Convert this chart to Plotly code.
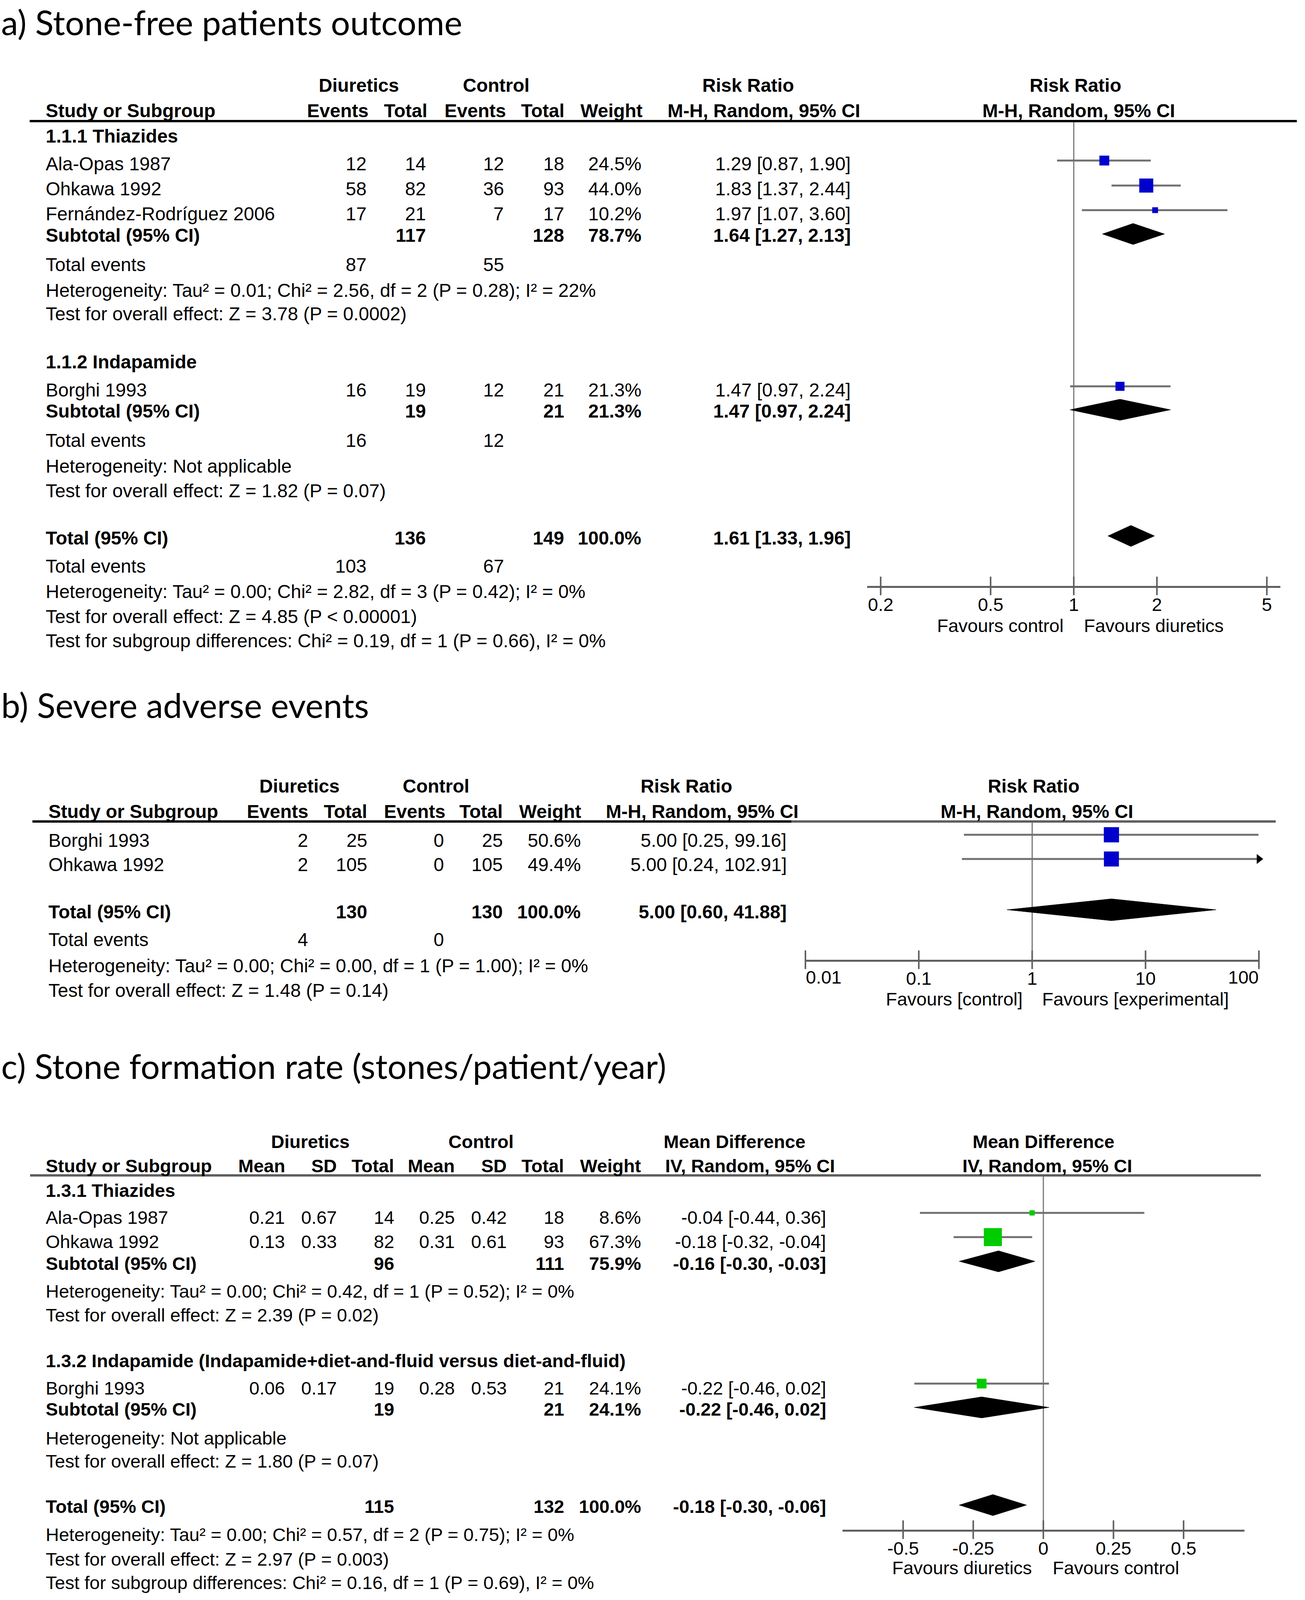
import numpy as np
import plotly.graph_objects as go

W, H = 3341, 4435

# ===================== DATA =====================
# ---- Panel a: Stone-free patients outcome (Risk Ratio) ----
a_title = "a) Stone-free patients outcome"
a_groups = ["1.1.1 Thiazides", "1.1.2 Indapamide"]
a_study = ["Ala-Opas 1987", "Ohkawa 1992", "Fernández-Rodríguez 2006", "Borghi 1993"]
a_study_group = [0, 0, 0, 1]
a_ev_d = [12, 58, 17, 16]
a_n_d = [14, 82, 21, 19]
a_ev_c = [12, 36, 7, 12]
a_n_c = [18, 93, 17, 21]
a_weight = [24.5, 44.0, 10.2, 21.3]
a_rr = [1.29, 1.83, 1.97, 1.47]
a_lo = [0.87, 1.37, 1.07, 0.97]
a_hi = [1.90, 2.44, 3.60, 2.24]
a_sub_n_d = [117, 19]
a_sub_n_c = [128, 21]
a_sub_weight = [78.7, 21.3]
a_sub_rr = [1.64, 1.47]
a_sub_lo = [1.27, 0.97]
a_sub_hi = [2.13, 2.24]
a_sub_ev_d = [87, 16]
a_sub_ev_c = [55, 12]
a_sub_het = ["Heterogeneity: Tau² = 0.01; Chi² = 2.56, df = 2 (P = 0.28); I² = 22%",
             "Heterogeneity: Not applicable"]
a_sub_test = ["Test for overall effect: Z = 3.78 (P = 0.0002)",
              "Test for overall effect: Z = 1.82 (P = 0.07)"]
a_tot_n_d, a_tot_n_c, a_tot_weight = 136, 149, 100.0
a_tot_rr, a_tot_lo, a_tot_hi = 1.61, 1.33, 1.96
a_tot_ev_d, a_tot_ev_c = 103, 67
a_tot_notes = ["Heterogeneity: Tau² = 0.00; Chi² = 2.82, df = 3 (P = 0.42); I² = 0%",
               "Test for overall effect: Z = 4.85 (P < 0.00001)",
               "Test for subgroup differences: Chi² = 0.19, df = 1 (P = 0.66), I² = 0%"]
a_ticks = [0.2, 0.5, 1, 2, 5]
a_ticklabels = ["0.2", "0.5", "1", "2", "5"]
a_favours = ["Favours control", "Favours diuretics"]

# ---- Panel b: Severe adverse events (Risk Ratio) ----
b_title = "b) Severe adverse events"
b_study = ["Borghi 1993", "Ohkawa 1992"]
b_ev_d = [2, 2]
b_n_d = [25, 105]
b_ev_c = [0, 0]
b_n_c = [25, 105]
b_weight = [50.6, 49.4]
b_rr = [5.00, 5.00]
b_lo = [0.25, 0.24]
b_hi = [99.16, 102.91]
b_tot_n_d, b_tot_n_c, b_tot_weight = 130, 130, 100.0
b_tot_rr, b_tot_lo, b_tot_hi = 5.00, 0.60, 41.88
b_tot_ev_d, b_tot_ev_c = 4, 0
b_tot_notes = ["Heterogeneity: Tau² = 0.00; Chi² = 0.00, df = 1 (P = 1.00); I² = 0%",
               "Test for overall effect: Z = 1.48 (P = 0.14)"]
b_ticks = [0.01, 0.1, 1, 10, 100]
b_ticklabels = ["0.01", "0.1", "1", "10", "100"]
b_favours = ["Favours [control]", "Favours [experimental]"]

# ---- Panel c: Stone formation rate (Mean Difference) ----
c_title = "c) Stone formation rate (stones/patient/year)"
c_groups = ["1.3.1 Thiazides", "1.3.2 Indapamide (Indapamide+diet-and-fluid versus diet-and-fluid)"]
c_study = ["Ala-Opas 1987", "Ohkawa 1992", "Borghi 1993"]
c_study_group = [0, 0, 1]
c_mean_d = [0.21, 0.13, 0.06]
c_sd_d = [0.67, 0.33, 0.17]
c_n_d = [14, 82, 19]
c_mean_c = [0.25, 0.31, 0.28]
c_sd_c = [0.42, 0.61, 0.53]
c_n_c = [18, 93, 21]
c_weight = [8.6, 67.3, 24.1]
c_md = [-0.04, -0.18, -0.22]
c_lo = [-0.44, -0.32, -0.46]
c_hi = [0.36, -0.04, 0.02]
c_sub_n_d = [96, 19]
c_sub_n_c = [111, 21]
c_sub_weight = [75.9, 24.1]
c_sub_md = [-0.16, -0.22]
c_sub_lo = [-0.30, -0.46]
c_sub_hi = [-0.03, 0.02]
c_sub_het = ["Heterogeneity: Tau² = 0.00; Chi² = 0.42, df = 1 (P = 0.52); I² = 0%",
             "Heterogeneity: Not applicable"]
c_sub_test = ["Test for overall effect: Z = 2.39 (P = 0.02)",
              "Test for overall effect: Z = 1.80 (P = 0.07)"]
c_tot_n_d, c_tot_n_c, c_tot_weight = 115, 132, 100.0
c_tot_md, c_tot_lo, c_tot_hi = -0.18, -0.30, -0.06
c_tot_notes = ["Heterogeneity: Tau² = 0.00; Chi² = 0.57, df = 2 (P = 0.75); I² = 0%",
               "Test for overall effect: Z = 2.97 (P = 0.003)",
               "Test for subgroup differences: Chi² = 0.16, df = 1 (P = 0.69), I² = 0%"]
c_ticks = [-0.5, -0.25, 0, 0.25, 0.5]
c_ticklabels = ["-0.5", "-0.25", "0", "0.25", "0.5"]
c_favours = ["Favours diuretics", "Favours control"]

# ===================== STYLE / LAYOUT =====================
TFONT = "Liberation Sans, Arial, sans-serif"
TITLE_FONT = "Lato, Open Sans, sans-serif"
TITLE_SIZE = 87
BLUE = "#0000CC"
GREEN = "#00CC00"
CI_GRAY = "#707070"
AX_GRAY = "#5f5f5f"
NULL_GRAY = "#777777"

# vertical shift of each panel (the photographed page ends near 4090 px,
# so panels b and c are pulled up into the blank gaps between panels)
PANEL_SHIFT = {"a": 0, "b": -170, "c": -350}
OFF = 0

annotations = []
shapes = []
traces = []


def px(x):
    return x / W


def py(y):
    return 1 - (y + OFF) / H


def txt(x, y, s, anchor="left", bold=False, size=48, family=TFONT):
    annotations.append(dict(
        x=px(x), y=py(y), xref="paper", yref="paper",
        text=f"<b>{s}</b>" if bold else s, showarrow=False,
        xanchor=anchor, yanchor="middle", borderpad=0,
        font=dict(family=family, size=size, color="black")))


def axtxt(xa, xval, y, s, anchor, xshift=0, size=47):
    # x through the forest axis, y at a page row
    annotations.append(dict(
        x=xval, y=py(y), xref=xa, yref="paper", text=s, showarrow=False,
        xanchor=anchor, yanchor="middle", xshift=xshift, borderpad=0,
        font=dict(family=TFONT, size=size, color="black")))


def hline(x0, x1, y, color="black", width=5):
    shapes.append(dict(type="line", xref="paper", yref="paper",
                       x0=px(x0), x1=px(x1), y0=py(y), y1=py(y),
                       line=dict(color=color, width=width)))


def fmt_ci(e, l, h):
    return f"{e:.2f} [{l:.2f}, {h:.2f}]"


def sq_size(w):
    return 3.7 * w ** 0.6


def forest_marks(xa, ya, est, lo, hi, ys, weights, color, clip_hi=None):
    for e, l, h, y, w in zip(est, lo, hi, ys, weights):
        hh = h if clip_hi is None else min(h, clip_hi)
        traces.append(go.Scatter(x=[l, hh], y=[y, y], mode="lines", xaxis=xa, yaxis=ya,
                                 line=dict(color=CI_GRAY, width=5), hoverinfo="skip"))
        if clip_hi is not None and h > clip_hi:
            traces.append(go.Scatter(x=[clip_hi], y=[y], mode="markers", xaxis=xa, yaxis=ya,
                                     cliponaxis=False,
                                     marker=dict(symbol="triangle-right", size=22, color="black"),
                                     hoverinfo="skip"))
        traces.append(go.Scatter(x=[e], y=[y], mode="markers", xaxis=xa, yaxis=ya,
                                 marker=dict(symbol="square", size=sq_size(w), color=color,
                                             line=dict(width=0)), hoverinfo="skip"))


def diamond(xa, ya, est, lo, hi, y, h=54):
    traces.append(go.Scatter(x=[lo, est, hi, est, lo], y=[y, y - h / 2, y, y + h / 2, y],
                             mode="lines", fill="toself", fillcolor="black",
                             line=dict(color="black", width=1), xaxis=xa, yaxis=ya,
                             hoverinfo="skip"))


def axis_and_null(xa, ya, ticks, null, top, bottom):
    traces.append(go.Scatter(x=[null, null], y=[top, bottom], mode="lines", xaxis=xa, yaxis=ya,
                             line=dict(color=NULL_GRAY, width=3), hoverinfo="skip"))
    traces.append(go.Scatter(x=ticks, y=[bottom] * len(ticks), mode="markers", xaxis=xa, yaxis=ya,
                             cliponaxis=False,
                             marker=dict(symbol="line-ns", size=34, color=AX_GRAY,
                                         line=dict(width=4, color=AX_GRAY)), hoverinfo="skip"))


layout_axes = {}


def make_axes(idx, xdom, top, bottom, xtype, xrange, ticks, ticklabels):
    xn = "xaxis" if idx == 1 else f"xaxis{idx}"
    yn = "yaxis" if idx == 1 else f"yaxis{idx}"
    ya = "y" if idx == 1 else f"y{idx}"
    xa = "x" if idx == 1 else f"x{idx}"
    layout_axes[xn] = dict(domain=[px(xdom[0]), px(xdom[1])], type=xtype, range=xrange,
                           anchor=ya, showline=True, linecolor=AX_GRAY, linewidth=5,
                           ticks="", tickvals=ticks, ticktext=ticklabels,
                           ticklabelstandoff=3,
                           showgrid=False, zeroline=False,
                           tickfont=dict(family=TFONT, size=47, color="black"),
                           fixedrange=True)
    layout_axes[yn] = dict(domain=[py(bottom), py(top)], range=[bottom, top], anchor=xa,
                           visible=False, showgrid=False, zeroline=False, fixedrange=True)
    return xa, ya


# ===================== PANEL A =====================
OFF = PANEL_SHIFT["a"]
txt(2, 56, a_title, size=TITLE_SIZE, family=TITLE_FONT)
A_L = 116
A_COL = dict(ev_d=939, n_d=1091, ev_c=1291, n_c=1445, w=1643, ci=2179)
A_HDR1, A_HDR2, A_LINE = 219, 284, 310
A_AX_Y = 1500
for s, x in [("Diuretics", 918), ("Control", 1270), ("Risk Ratio", 1916), ("Risk Ratio", 2753)]:
    txt(x, A_HDR1, s, "center", True)
txt(A_L, A_HDR2, "Study or Subgroup", "left", True)
for s, x in [("Events", 944), ("Total", 1095), ("Events", 1296), ("Total", 1446), ("Weight", 1646)]:
    txt(x, A_HDR2, s, "right", True)
txt(1955, A_HDR2, "M-H, Random, 95% CI", "center", True)
txt(2761, A_HDR2, "M-H, Random, 95% CI", "center", True)
hline(76, 3320, A_LINE, "black", 6)

a_group_y = [349, 926]
a_study_y = [420, 484, 547, 998]
a_sub_y = [603, 1053]
a_sub_ev_y = [677, 1127]
a_sub_het_y = [744, 1193]
a_sub_test_y = [804, 1256]
a_tot_y = 1377
a_tot_ev_y = 1449
a_tot_notes_y = [1515, 1578, 1641]

xa, ya = make_axes(1, (2220, 3278), A_LINE, A_AX_Y, "log", [-0.748, 0.748], a_ticks, a_ticklabels)
axis_and_null(xa, ya, a_ticks, 1, A_LINE + 3, A_AX_Y)

for g in range(2):
    txt(A_L, a_group_y[g], a_groups[g], bold=True)
for i in range(len(a_study)):
    y = a_study_y[i]
    txt(A_L, y, a_study[i])
    txt(A_COL["ev_d"], y, str(a_ev_d[i]), "right")
    txt(A_COL["n_d"], y, str(a_n_d[i]), "right")
    txt(A_COL["ev_c"], y, str(a_ev_c[i]), "right")
    txt(A_COL["n_c"], y, str(a_n_c[i]), "right")
    txt(A_COL["w"], y, f"{a_weight[i]:.1f}%", "right")
    txt(A_COL["ci"], y, fmt_ci(a_rr[i], a_lo[i], a_hi[i]), "right")
forest_marks(xa, ya, a_rr, a_lo, a_hi, [y - 9 for y in a_study_y], a_weight, BLUE)
for g in range(2):
    y = a_sub_y[g]
    txt(A_L, y, "Subtotal (95% CI)", bold=True)
    txt(A_COL["n_d"], y, str(a_sub_n_d[g]), "right", True)
    txt(A_COL["n_c"], y, str(a_sub_n_c[g]), "right", True)
    txt(A_COL["w"], y, f"{a_sub_weight[g]:.1f}%", "right", True)
    txt(A_COL["ci"], y, fmt_ci(a_sub_rr[g], a_sub_lo[g], a_sub_hi[g]), "right", True)
    diamond(xa, ya, a_sub_rr[g], a_sub_lo[g], a_sub_hi[g], y - 4)
    txt(A_L, a_sub_ev_y[g], "Total events")
    txt(A_COL["ev_d"], a_sub_ev_y[g], str(a_sub_ev_d[g]), "right")
    txt(A_COL["ev_c"], a_sub_ev_y[g], str(a_sub_ev_c[g]), "right")
    txt(A_L, a_sub_het_y[g], a_sub_het[g])
    txt(A_L, a_sub_test_y[g], a_sub_test[g])
txt(A_L, a_tot_y, "Total (95% CI)", bold=True)
txt(A_COL["n_d"], a_tot_y, str(a_tot_n_d), "right", True)
txt(A_COL["n_c"], a_tot_y, str(a_tot_n_c), "right", True)
txt(A_COL["w"], a_tot_y, f"{a_tot_weight:.1f}%", "right", True)
txt(A_COL["ci"], a_tot_y, fmt_ci(a_tot_rr, a_tot_lo, a_tot_hi), "right", True)
diamond(xa, ya, a_tot_rr, a_tot_lo, a_tot_hi, a_tot_y - 5)
txt(A_L, a_tot_ev_y, "Total events")
txt(A_COL["ev_d"], a_tot_ev_y, str(a_tot_ev_d), "right")
txt(A_COL["ev_c"], a_tot_ev_y, str(a_tot_ev_c), "right")
for s, y in zip(a_tot_notes, a_tot_notes_y):
    txt(A_L, y, s)
axtxt(xa, 0, A_AX_Y + 101, a_favours[0], "right", -25)
axtxt(xa, 0, A_AX_Y + 101, a_favours[1], "left", 25)

# ===================== PANEL B =====================
OFF = PANEL_SHIFT["b"]
txt(2, 1974, b_title, size=TITLE_SIZE, family=TITLE_FONT)
B_L = 123
B_COL = dict(ev_d=790, n_d=941, ev_c=1138, n_c=1288, w=1488, ci=2015)
B_HDR1, B_HDR2, B_LINE = 2183, 2247, 2273
B_AX_Y = 2627
for s, x in [("Diuretics", 766), ("Control", 1116), ("Risk Ratio", 1757), ("Risk Ratio", 2646)]:
    txt(x, B_HDR1, s, "center", True)
txt(B_L, B_HDR2, "Study or Subgroup", "left", True)
for s, x in [("Events", 790), ("Total", 941), ("Events", 1141), ("Total", 1288), ("Weight", 1489)]:
    txt(x, B_HDR2, s, "right", True)
txt(1797, B_HDR2, "M-H, Random, 95% CI", "center", True)
txt(2654, B_HDR2, "M-H, Random, 95% CI", "center", True)
hline(83, 2026, B_LINE, "black", 6)
hline(2026, 3266, B_LINE, AX_GRAY, 6)

b_study_y = [2321, 2383]
b_tot_y = 2504
b_tot_ev_y = 2575
b_tot_notes_y = [2642, 2705]

xb, yb = make_axes(2, (2062, 3223), B_LINE, B_AX_Y, "log", [-2, 2], b_ticks,
                   [""] + b_ticklabels[1:-1] + [""])
axis_and_null(xb, yb, b_ticks, 1, B_LINE + 2, B_AX_Y)
for i in range(len(b_study)):
    y = b_study_y[i]
    txt(B_L, y, b_study[i])
    txt(B_COL["ev_d"], y, str(b_ev_d[i]), "right")
    txt(B_COL["n_d"], y, str(b_n_d[i]), "right")
    txt(B_COL["ev_c"], y, str(b_ev_c[i]), "right")
    txt(B_COL["n_c"], y, str(b_n_c[i]), "right")
    txt(B_COL["w"], y, f"{b_weight[i]:.1f}%", "right")
    txt(B_COL["ci"], y, fmt_ci(b_rr[i], b_lo[i], b_hi[i]), "right")
forest_marks(xb, yb, b_rr, b_lo, b_hi, [y - 14 for y in b_study_y], b_weight, BLUE,
             clip_hi=b_ticks[-1])
txt(B_L, b_tot_y, "Total (95% CI)", bold=True)
txt(B_COL["n_d"], b_tot_y, str(b_tot_n_d), "right", True)
txt(B_COL["n_c"], b_tot_y, str(b_tot_n_c), "right", True)
txt(B_COL["w"], b_tot_y, f"{b_tot_weight:.1f}%", "right", True)
txt(B_COL["ci"], b_tot_y, fmt_ci(b_tot_rr, b_tot_lo, b_tot_hi), "right", True)
diamond(xb, yb, b_tot_rr, b_tot_lo, b_tot_hi, b_tot_y - 5, 56)
txt(B_L, b_tot_ev_y, "Total events")
txt(B_COL["ev_d"], b_tot_ev_y, str(b_tot_ev_d), "right")
txt(B_COL["ev_c"], b_tot_ev_y, str(b_tot_ev_c), "right")
for s, y in zip(b_tot_notes, b_tot_notes_y):
    txt(B_L, y, s)
# end tick labels sit inside the axis ends
axtxt(xb, np.log10(b_ticks[0]), B_AX_Y + 44, b_ticklabels[0], "left")
axtxt(xb, np.log10(b_ticks[-1]), B_AX_Y + 44, b_ticklabels[-1], "right")
axtxt(xb, 0, B_AX_Y + 100, b_favours[0], "right", -24)
axtxt(xb, 0, B_AX_Y + 100, b_favours[1], "left", 24)

# ===================== PANEL C =====================
OFF = PANEL_SHIFT["c"]
txt(2, 3078, c_title, size=TITLE_SIZE, family=TITLE_FONT)
C_L = 116
C_FS = 47
C_COL = dict(m_d=730, sd_d=863, n_d=1010, m_c=1165, sd_c=1298, n_c=1445, w=1642, ci=2116)
C_HDR1, C_HDR2, C_LINE = 3272, 3334, 3359
C_AX_Y = 4266
for s, x in [("Diuretics", 794), ("Control", 1231), ("Mean Difference", 1880), ("Mean Difference", 2671)]:
    txt(x, C_HDR1, s, "center", True, C_FS)
txt(C_L, C_HDR2, "Study or Subgroup", "left", True, C_FS)
for s, x in [("Mean", 731), ("SD", 863), ("Total", 1010), ("Mean", 1165), ("SD", 1298),
             ("Total", 1445), ("Weight", 1642)]:
    txt(x, C_HDR2, s, "right", True, C_FS)
txt(1920, C_HDR2, "IV, Random, 95% CI", "center", True, C_FS)
txt(2681, C_HDR2, "IV, Random, 95% CI", "center", True, C_FS)
hline(77, 3228, C_LINE, AX_GRAY, 6)

c_group_y = [3397, 3833]
c_study_y = [3466, 3528, 3903]
c_sub_y = [3584, 3958]
c_sub_het_y = [3655, 4031]
c_sub_test_y = [3716, 4090]
c_tot_y = 4207
c_tot_notes_y = [4278, 4341, 4401]

xc, yc = make_axes(3, (2157, 3186), C_LINE, C_AX_Y, "linear", [-0.716, 0.717], c_ticks, c_ticklabels)
axis_and_null(xc, yc, c_ticks, 0, C_LINE + 2, C_AX_Y)
for g in range(2):
    txt(C_L, c_group_y[g], c_groups[g], bold=True, size=C_FS)
for i in range(len(c_study)):
    y = c_study_y[i]
    txt(C_L, y, c_study[i], size=C_FS)
    txt(C_COL["m_d"], y, f"{c_mean_d[i]:.2f}", "right", size=C_FS)
    txt(C_COL["sd_d"], y, f"{c_sd_d[i]:.2f}", "right", size=C_FS)
    txt(C_COL["n_d"], y, str(c_n_d[i]), "right", size=C_FS)
    txt(C_COL["m_c"], y, f"{c_mean_c[i]:.2f}", "right", size=C_FS)
    txt(C_COL["sd_c"], y, f"{c_sd_c[i]:.2f}", "right", size=C_FS)
    txt(C_COL["n_c"], y, str(c_n_c[i]), "right", size=C_FS)
    txt(C_COL["w"], y, f"{c_weight[i]:.1f}%", "right", size=C_FS)
    txt(C_COL["ci"], y, fmt_ci(c_md[i], c_lo[i], c_hi[i]), "right", size=C_FS)
forest_marks(xc, yc, c_md, c_lo, c_hi, [y - 11 for y in c_study_y], c_weight, GREEN)
for g in range(2):
    y = c_sub_y[g]
    txt(C_L, y, "Subtotal (95% CI)", bold=True, size=C_FS)
    txt(C_COL["n_d"], y, str(c_sub_n_d[g]), "right", True, C_FS)
    txt(C_COL["n_c"], y, str(c_sub_n_c[g]), "right", True, C_FS)
    txt(C_COL["w"], y, f"{c_sub_weight[g]:.1f}%", "right", True, C_FS)
    txt(C_COL["ci"], y, fmt_ci(c_sub_md[g], c_sub_lo[g], c_sub_hi[g]), "right", True, C_FS)
    diamond(xc, yc, c_sub_md[g], c_sub_lo[g], c_sub_hi[g], y - 5)
    txt(C_L, c_sub_het_y[g], c_sub_het[g], size=C_FS)
    txt(C_L, c_sub_test_y[g], c_sub_test[g], size=C_FS)
txt(C_L, c_tot_y, "Total (95% CI)", bold=True, size=C_FS)
txt(C_COL["n_d"], c_tot_y, str(c_tot_n_d), "right", True, C_FS)
txt(C_COL["n_c"], c_tot_y, str(c_tot_n_c), "right", True, C_FS)
txt(C_COL["w"], c_tot_y, f"{c_tot_weight:.1f}%", "right", True, C_FS)
txt(C_COL["ci"], c_tot_y, fmt_ci(c_tot_md, c_tot_lo, c_tot_hi), "right", True, C_FS)
diamond(xc, yc, c_tot_md, c_tot_lo, c_tot_hi, c_tot_y - 4)
for s, y in zip(c_tot_notes, c_tot_notes_y):
    txt(C_L, y, s, size=C_FS)
axtxt(xc, 0, C_AX_Y + 97, c_favours[0], "right", -28)
axtxt(xc, 0, C_AX_Y + 97, c_favours[1], "left", 23)

# ===================== FIGURE =====================
fig = go.Figure(data=traces)
fig.update_layout(width=W, height=H, margin=dict(l=0, r=0, t=0, b=0),
                  paper_bgcolor="white", plot_bgcolor="rgba(0,0,0,0)", showlegend=False,
                  annotations=annotations, shapes=shapes, **layout_axes)
fig.write_html("out.html", config={"displayModeBar": False, "staticPlot": True},
               post_script="document.body.style.margin='0';document.body.style.overflow='hidden';")
